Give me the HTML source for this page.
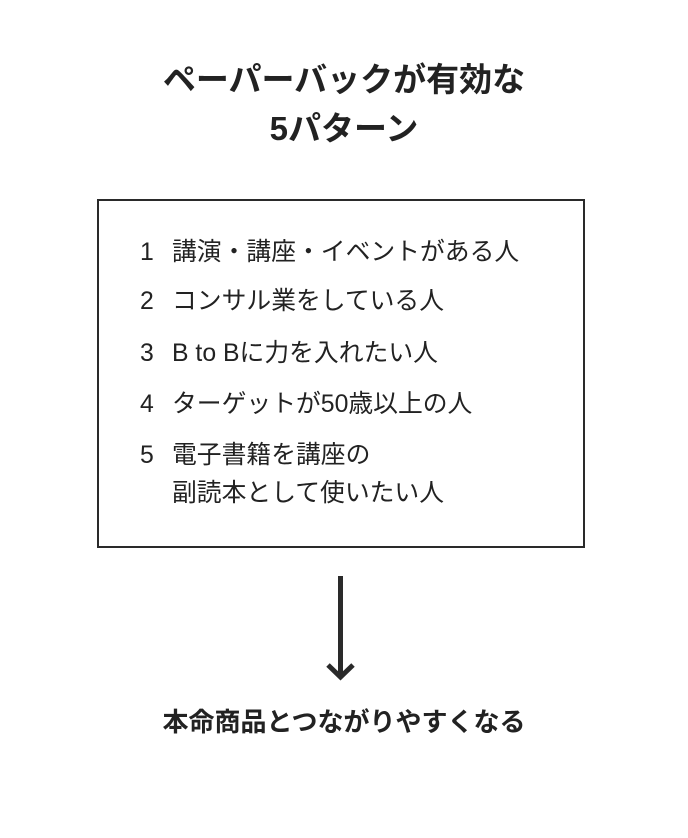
<!DOCTYPE html>
<html><head><meta charset="utf-8"><style>
body{margin:0;width:688px;height:838px;background:#fff;position:relative;font-family:"Liberation Sans","Noto Sans CJK JP",sans-serif;color:#222;overflow:hidden}
.t{position:absolute;left:0;width:688px;text-align:center;font-weight:bold}
.box{position:absolute;left:97px;top:199px;width:484px;height:345px;border:2.5px solid #2a2a2a}
.r{position:absolute;font-size:24.8px;white-space:nowrap;line-height:30px}
.n{position:absolute;left:140px}
.x{position:absolute;left:172px}
</style></head><body>
<div class="t" style="top:60px;font-size:33px;line-height:40px">ペーパーバックが有効な</div>
<div class="t" style="top:109px;font-size:33px;line-height:40px">5パターン</div>
<div class="box"></div>
<div class="r n" style="top:238px">1</div><div class="r x" style="top:238px">講演・講座・イベントがある人</div>
<div class="r n" style="top:287px">2</div><div class="r x" style="top:287px">コンサル業をしている人</div>
<div class="r n" style="top:339px">3</div><div class="r x" style="top:339px">B to Bに力を入れたい人</div>
<div class="r n" style="top:390px">4</div><div class="r x" style="top:390px">ターゲットが50歳以上の人</div>
<div class="r n" style="top:441px">5</div><div class="r x" style="top:441px">電子書籍を講座の</div>
<div class="r x" style="top:479px">副読本として使いたい人</div>
<svg style="position:absolute;left:0;top:0" width="688" height="838">
<line x1="340.5" y1="576" x2="340.5" y2="676" stroke="#2a2a2a" stroke-width="5"/>
<polyline points="328,665 340.5,677 353,665" fill="none" stroke="#2a2a2a" stroke-width="5"/>
</svg>
<div class="t" style="top:706px;font-size:26px;line-height:32px">本命商品とつながりやすくなる</div>
</body></html>
